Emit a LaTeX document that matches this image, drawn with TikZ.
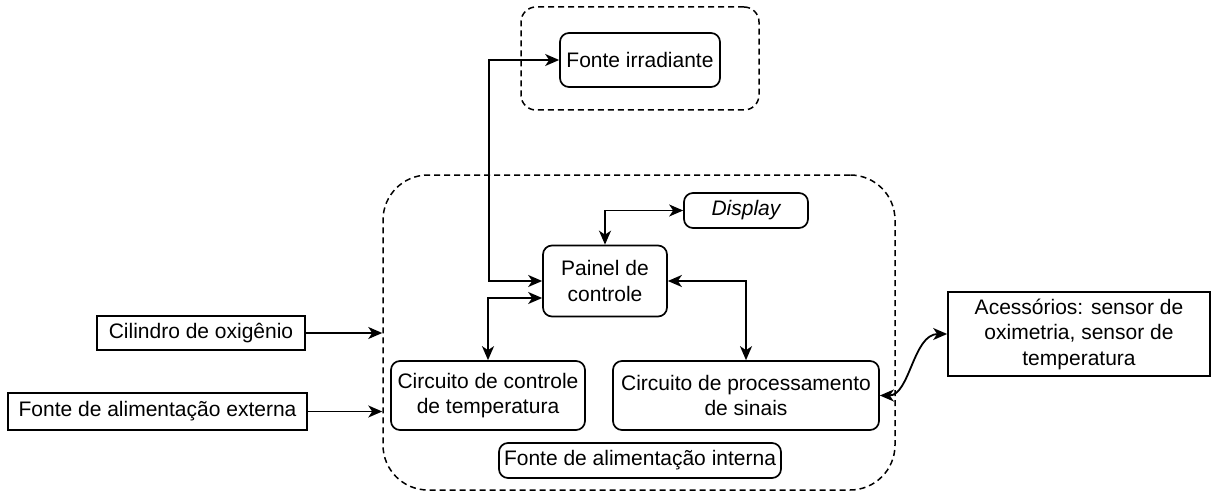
\documentclass[tikz,border=0pt]{standalone}
\usepackage{fontspec}
\setmainfont{Liberation Sans}
\usetikzlibrary{arrows.meta}
\begin{document}
\begin{tikzpicture}[x=1pt,y=-1pt,
  txt/.style={align=center,inner sep=0pt,font=\fontsize{21}{25.5}\selectfont},
  box/.style={txt,draw,line width=1.7pt,rounded corners=9pt},
  sq/.style={txt,draw,line width=1.7pt},
  grp/.style={draw,line width=1.5pt,dash pattern=on 6pt off 4pt,inner sep=0pt},
  conn/.style={line width=1.8pt,{Stealth[length=14pt,width=12pt,inset=4pt]}-{Stealth[length=14pt,width=12pt,inset=4pt]}},
  one/.style={line width=1.8pt,-{Stealth[length=14pt,width=12pt,inset=4pt]}}]
\useasboundingbox (0,0) rectangle (1212,492);
% groups
\node[grp,rounded corners=15pt,minimum width=238pt,minimum height=103pt] (topgrp) at (640,58.5) {};
\node[grp,rounded corners=45pt,minimum width=512pt,minimum height=315pt] (big) at (639,332.5) {};
% nodes
\node[box,minimum width=160pt,minimum height=54pt] (irr) at (640,60) {Fonte irradiante};
\node[box,minimum width=124pt,minimum height=35pt] (disp) at (746,210.5) {\itshape Display};
\node[box,minimum width=124pt,minimum height=71pt] (pan) at (605,281) {Painel de\\controle};
\node[box,minimum width=194pt,minimum height=69pt] (cct) at (488,395.5) {Circuito de controle\\de temperatura};
\node[box,minimum width=266pt,minimum height=69pt] (cpr) at (746,395.5) {Circuito de processamento\\de sinais};
\node[box,minimum width=282pt,minimum height=35pt] (fint) at (640,460.5) {Fonte de alimentação interna};
\node[sq,minimum width=208pt,minimum height=34pt] (cil) at (201,333) {Cilindro de oxigênio};
\node[sq,minimum width=299pt,minimum height=37pt] (fext) at (157.5,411.5) {Fonte de alimentação externa};
\node[sq,minimum width=262pt,minimum height=84pt] (acc) at (1079,334) {Acessórios: sensor de\\oximetria, sensor de\\temperatura};
% connectors
\draw[conn] (pan.west) -- ++(-53,0) |- (irr.west);
\draw[conn] ([yshift=-17pt]pan.west) -| (cct.north);
\draw[conn] (pan.north) |- (disp.west);
\draw[conn] (pan.east) -| (cpr.north);
\draw[one] (cil.east) -- (cil.east -| big.west);
\draw[one] (fext.east) -- (fext.east -| big.west);
\draw[conn] (cpr.east) .. controls +(30,0) and +(-34,0) .. (acc.west);
\end{tikzpicture}
\end{document}
